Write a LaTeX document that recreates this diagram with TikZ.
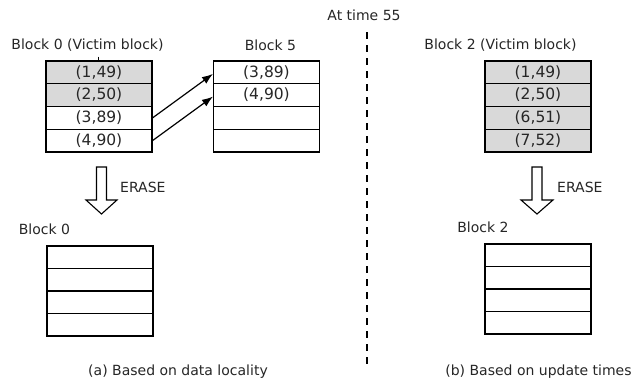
\documentclass[tikz,border=0pt]{standalone}
\usepackage{fontspec}
\setmainfont{DejaVu Sans}
\usetikzlibrary{arrows.meta}
\definecolor{txt}{HTML}{262626}
\definecolor{cellgray}{HTML}{D9D9D9}
\tikzset{
  cell/.style={draw=black, line width=1.1pt, minimum width=106pt, minimum height=22.75pt, inner sep=0pt, text=txt, font=\fontsize{15.5}{17}\selectfont},
  lowcell/.style={cell, minimum height=22.5pt},
  grey/.style={fill=cellgray},
  lbl/.style={inner sep=0pt, text=txt, font=\fontsize{14}{16}\selectfont},
  move/.style={-{Latex[length=11pt,width=8pt]}, line width=1.2pt},
  erase/.style={draw=black, line width=1.1pt, fill=white},
  divider/.style={line width=1.3pt, dash pattern=on 7pt off 6pt}
}
\begin{document}
\begin{tikzpicture}[x=1pt,y=-1pt]
\useasboundingbox (0,0) rectangle (641,383);

\node[lbl] (time) at (364,15) {At time 55};
\draw[divider] (367,32) coordinate (d1) -- (367,370) coordinate (d2);

% (a) Block 0 victim
\node[lbl] (l0) at (87.5,45) {Block 0 (Victim block)};
\node[cell,grey] (a1) at (99,72.4) {(1,49)};
\node[cell,grey] (a2) at (99,95.1) {(2,50)};
\node[cell] (a3) at (99,117.9) {(3,89)};
\node[cell] (a4) at (99,140.6) {(4,90)};
\draw[line width=0.8pt] (98,56.5) coordinate (t1) -- (a1.north -| t1);

% Block 5
\node[lbl] (l5) at (270.5,45) {Block 5};
\node[cell] (b1) at (266.5,72.4) {(3,89)};
\node[cell] (b2) at (266.5,95.1) {(4,90)};
\node[cell] (b3) at (266.5,117.9) {};
\node[cell] (b4) at (266.5,140.6) {};

\draw[move] (a3.east) -- ([yshift=-1.5pt]b1.west);
\draw[move] (a4.east) -- ([yshift=-1.5pt]b2.west);

% erase arrow left
\draw[erase] (96.5,167) -- (106.5,167) -- (106.5,200) -- (117,200) -- (101.5,214) -- (86,200) -- (96.5,200) -- cycle;
\node[lbl, anchor=west] (e1) at (120,187) {ERASE};

% lower Block 0
\node[lbl] (l0b) at (44.5,229) {Block 0};
\node[lowcell] (c1) at (100,257.25) {};
\node[lowcell] (c2) at (100,279.75) {};
\node[lowcell] (c3) at (100,302.25) {};
\node[lowcell] (c4) at (100,324.75) {};

\node[lbl] (capa) at (178,372) {(a) Based on data locality};

% (b) Block 2 victim
\node[lbl] (l2) at (500.5,45) {Block 2 (Victim block)};
\node[cell,grey] (v1) at (538,72.4) {(1,49)};
\node[cell,grey] (v2) at (538,95.1) {(2,50)};
\node[cell,grey] (v3) at (538,117.9) {(6,51)};
\node[cell,grey] (v4) at (538,140.6) {(7,52)};

\draw[erase] (532,167) -- (542,167) -- (542,200) -- (553,200) -- (537,214) -- (521,200) -- (532,200) -- cycle;
\node[lbl, anchor=west] (e2) at (557,187) {ERASE};

\node[lbl] (l2b) at (483,227) {Block 2};
\node[lowcell] (w1) at (538,255.25) {};
\node[lowcell] (w2) at (538,277.75) {};
\node[lowcell] (w3) at (538,300.25) {};
\node[lowcell] (w4) at (538,322.75) {};

\node[lbl] (capb) at (538.5,372) {(b) Based on update times};
\end{tikzpicture}
\end{document}
